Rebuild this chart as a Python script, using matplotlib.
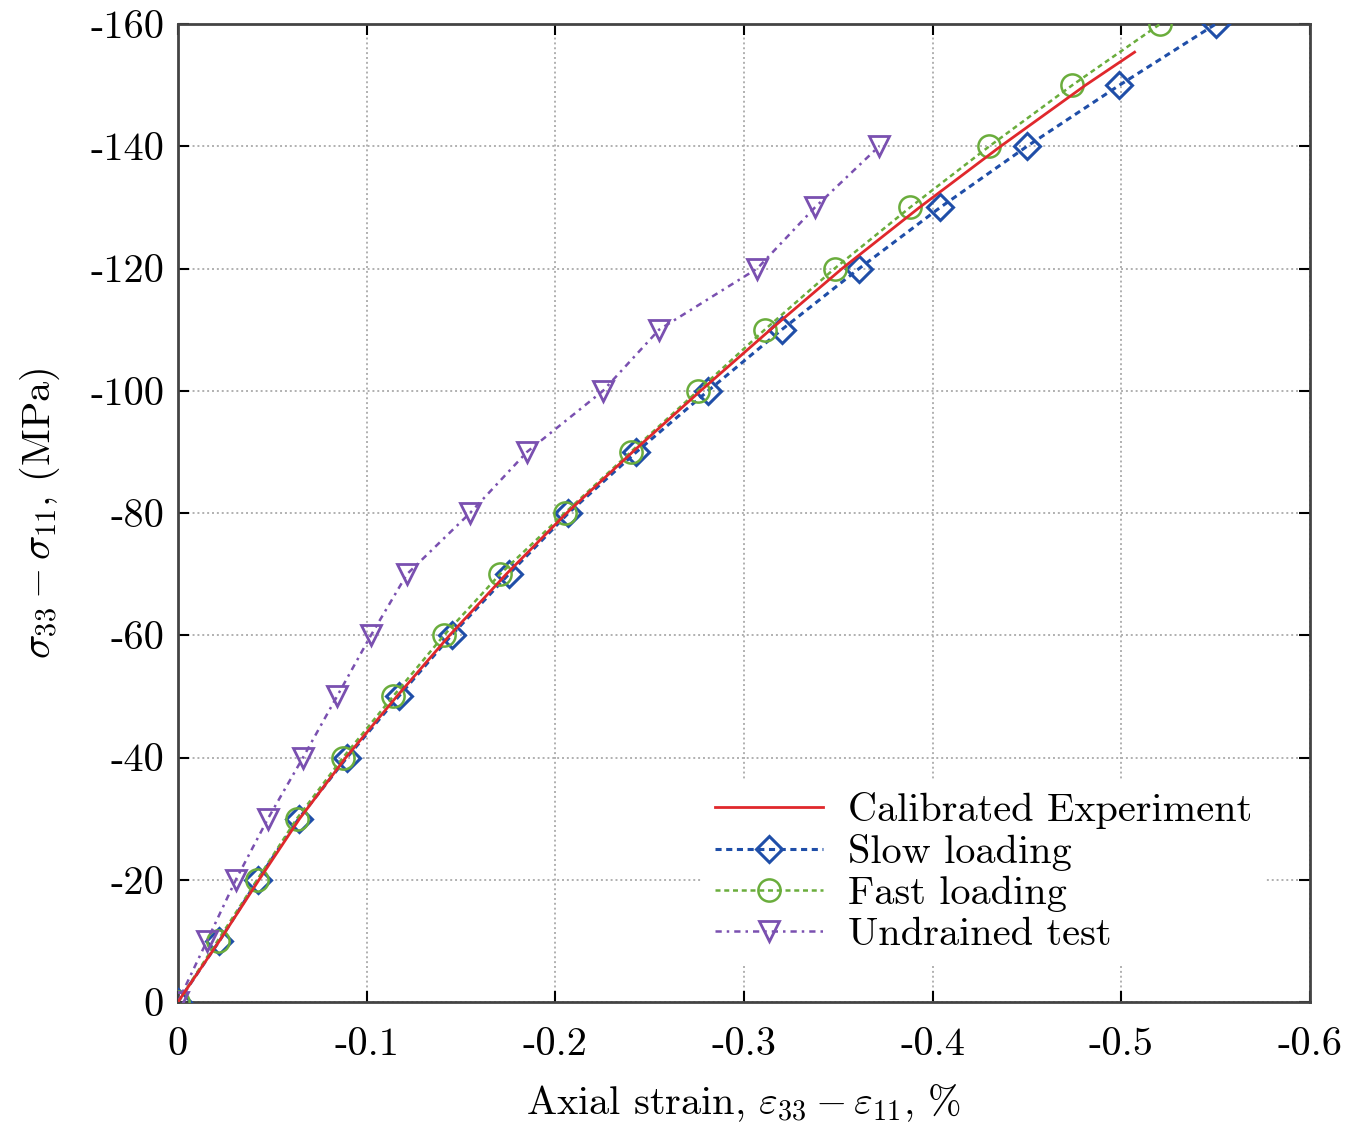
import matplotlib
matplotlib.use("Agg")
import matplotlib.pyplot as plt

plt.rcParams["font.family"] = ["cmr10", "DejaVu Serif"]
plt.rcParams["mathtext.fontset"] = "cm"
plt.rcParams["axes.unicode_minus"] = False
plt.rcParams["axes.formatter.use_mathtext"] = True

stress = [0, -10, -20, -30, -40, -50, -60, -70, -80, -90, -100, -110, -120, -130, -140, -150, -160]

calib_strain = [0, -0.022, -0.043, -0.0645, -0.089, -0.116, -0.144, -0.174, -0.206, -0.241,
                -0.277, -0.314, -0.352, -0.393, -0.436, -0.481, -0.507]
calib_stress = [0, -10, -20, -30, -40, -50, -60, -70, -80, -90, -100, -110, -120, -130, -140, -150, -155.4]

slow_strain = [0, -0.022, -0.0424, -0.064, -0.0896, -0.117, -0.145, -0.1754, -0.207, -0.243,
               -0.281, -0.320, -0.361, -0.404, -0.450, -0.499, -0.550]
fast_strain = [0, -0.021, -0.042, -0.063, -0.0875, -0.114, -0.141, -0.1707, -0.205, -0.240,
               -0.2756, -0.311, -0.348, -0.388, -0.430, -0.474, -0.5205]
undrained_strain = [0, -0.0154, -0.0307, -0.0477, -0.0663, -0.0843, -0.1023, -0.1214, -0.1548,
                    -0.185, -0.2253, -0.255, -0.307, -0.3376, -0.3716]
undrained_stress = [0, -10, -20, -30, -40, -50, -60, -70, -80, -90, -100, -110, -120, -130, -140]

xticks = [0, -0.1, -0.2, -0.3, -0.4, -0.5, -0.6]
xticklabels = ["0", "-0.1", "-0.2", "-0.3", "-0.4", "-0.5", "-0.6"]
yticks = [0, -20, -40, -60, -80, -100, -120, -140, -160]
yticklabels = ["0", "-20", "-40", "-60", "-80", "-100", "-120", "-140", "-160"]

fig = plt.figure(figsize=(13.58, 11.24), dpi=100)
ax = fig.add_axes([0.131, 0.1085, 0.8337, 0.8701])

red = "#e0282c"
blue = "#1f4ea8"
green = "#6aad3c"
purple = "#7a50b0"

FS = 29

ax.plot(calib_strain, calib_stress, color=red, lw=2.0, label="Calibrated Experiment", zorder=4)
ax.plot(slow_strain, stress, color=blue, lw=2.2, ls=(0, (2.0, 1.5)), marker="D", ms=13,
        mfc="none", mec=blue, mew=2.2, label="Slow loading", zorder=3)
ax.plot(fast_strain, stress, color=green, lw=1.8, ls=(0, (2.0, 1.5)), marker="o", ms=16,
        mfc="none", mec=green, mew=1.8, label="Fast loading", zorder=3)
ax.plot(undrained_strain, undrained_stress, color=purple, lw=1.8, ls=(0, (2.5, 2, 1, 2)),
        marker="v", ms=14, mfc="none", mec=purple, mew=2.0, label="Undrained test", zorder=3)

ax.set_xlim(0, -0.6)
ax.set_ylim(0, -160)
ax.set_xticks(xticks)
ax.set_xticklabels(xticklabels)
ax.set_yticks(yticks)
ax.set_yticklabels(yticklabels)
ax.tick_params(axis="both", direction="in", length=8, width=1.5, labelsize=FS,
               top=True, right=True)
ax.tick_params(axis="x", pad=18)
ax.tick_params(axis="y", pad=10)
ax.grid(True, color="#b0b0b0", ls=(0, (1, 1.5)), lw=1.4)
for s in ax.spines.values():
    s.set_linewidth(2.0)
    s.set_color("#444444")

ax.set_xlabel(r"Axial strain, $\varepsilon_{33} - \varepsilon_{11}$, %", fontsize=FS, labelpad=14)
ax.set_ylabel(r"$\sigma_{33} - \sigma_{11}$, (MPa)", fontsize=FS, labelpad=20)

leg = ax.legend(loc="lower right", bbox_to_anchor=(0.977, 0.017), fontsize=FS, frameon=True,
                framealpha=1, edgecolor="none", handlelength=2.7, handletextpad=0.6,
                labelspacing=0.12, borderpad=0.3)
leg.get_frame().set_linewidth(0)

fig.savefig("out.png", dpi=100)
